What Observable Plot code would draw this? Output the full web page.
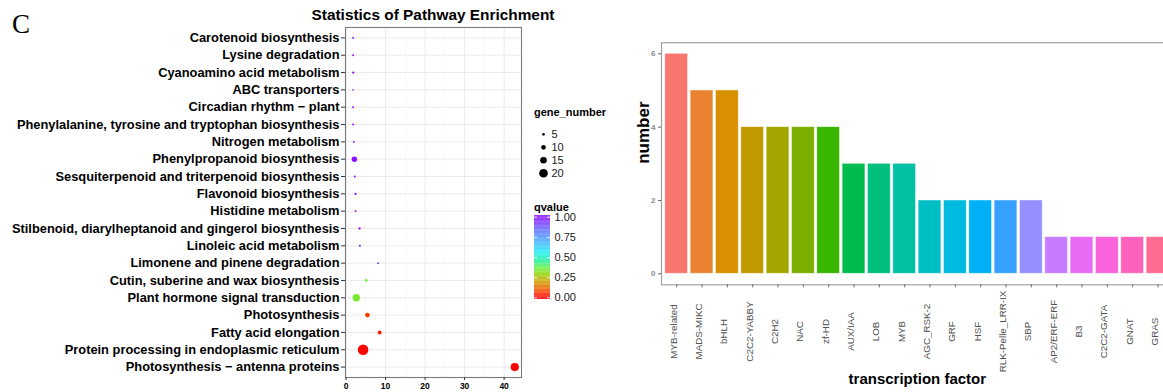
<!DOCTYPE html>
<html>
<head>
<meta charset="utf-8">
<script src="https://cdn.jsdelivr.net/npm/d3@7"></script>
<script src="https://cdn.jsdelivr.net/npm/@observablehq/plot@0.6"></script>
<style>
  html, body { margin: 0; padding: 0; background: #fff; }
  body { width: 1163px; height: 392px; overflow: hidden; position: relative; font-family: "Liberation Sans", Arial, sans-serif; }
  .abs { position: absolute; }
  .abs svg { max-width: none !important; display: block; }
  .lbl { position: absolute; white-space: nowrap; color: #000; }
</style>
</head>
<body>
<div class="lbl" style="left:12px; top:8px; font-family:'Liberation Serif','DejaVu Serif',serif; font-size:27px; line-height:32px;">C</div>
<div class="lbl" style="left:258px; width:350px; text-align:center; top:6px; font-weight:bold; font-size:15.4px; line-height:18px;">Statistics of Pathway Enrichment</div>
<div class="lbl" style="left:534px; top:105px; font-weight:bold; font-size:11px; line-height:14px;">gene_number</div>
<div class="lbl" style="left:534px; top:200px; font-weight:bold; font-size:11px; line-height:14px;">qvalue</div>
<div id="left" class="abs" style="left:0; top:0;"></div>
<div id="sizeLegend" class="abs" style="left:525px; top:95px;"></div>
<div id="colorLegend" class="abs" style="left:528px; top:205px;"></div>
<div id="right" class="abs" style="left:600px; top:0; width:580px;"></div>
<script>
// ---------- Left panel data: pathway enrichment ----------
const pathways = [
  "Carotenoid biosynthesis",
  "Lysine degradation",
  "Cyanoamino acid metabolism",
  "ABC transporters",
  "Circadian rhythm \u2212 plant",
  "Phenylalanine, tyrosine and tryptophan biosynthesis",
  "Nitrogen metabolism",
  "Phenylpropanoid biosynthesis",
  "Sesquiterpenoid and triterpenoid biosynthesis",
  "Flavonoid biosynthesis",
  "Histidine metabolism",
  "Stilbenoid, diarylheptanoid and gingerol biosynthesis",
  "Linoleic acid metabolism",
  "Limonene and pinene degradation",
  "Cutin, suberine and wax biosynthesis",
  "Plant hormone signal transduction",
  "Photosynthesis",
  "Fatty acid elongation",
  "Protein processing in endoplasmic reticulum",
  "Photosynthesis \u2212 antenna proteins"
];
const richFactor = [1.77, 1.77, 1.8, 1.77, 1.77, 1.77, 1.95, 2.1, 2.2, 2.4, 2.4, 3.4, 3.5, 8.1, 5.1, 2.6, 5.4, 8.5, 4.3, 42.7];
const geneNumber = [3, 3, 4, 2, 3, 3, 3, 12, 3, 4, 3, 4, 3, 3, 5, 17, 10, 8, 25, 19];
const qvalue = [1, 1, 1, 1, 1, 1, 1, 1, 1, 1, 1, 1, 1, 0.93, 0.36, 0.34, 0.07, 0.03, 0.0, 0.0];
const xTicks = [0, 10, 20, 30, 40];
const xMinor = [5, 15, 25, 35];
const sizeBreaks = [5, 10, 15, 20];
const qBreaks = [0, 0.25, 0.5, 0.75, 1];

// ---------- Right panel data: transcription factors ----------
const tfs = ["MYB-related", "MADS-MIKC", "bHLH", "C2C2-YABBY", "C2H2", "NAC", "zf-HD", "AUX/IAA", "LOB", "MYB",
  "AGC_RSK-2", "GRF", "HSF", "RLK-Pelle_LRR-IX", "SBP", "AP2/ERF-ERF", "B3", "C2C2-GATA", "GNAT", "GRAS"];
const tfCounts = [6, 5, 5, 4, 4, 4, 4, 3, 3, 3, 2, 2, 2, 2, 2, 1, 1, 1, 1, 1];
const tfColors = ["#F8766D", "#EA8331", "#D89000", "#C09B00", "#A3A500", "#7CAE00", "#39B600", "#00BB4E", "#00BF7D", "#00C1A3",
  "#00BFC4", "#00BAE0", "#00B0F6", "#35A2FF", "#9590FF", "#C77CFF", "#E76BF3", "#FA62DB", "#FF62BC", "#FF6C91"];
const yTicksRight = [0, 2, 4, 6];

// qvalue colour ramp (stops)
const qStops = [0, 0.1, 0.2, 0.28, 0.36, 0.46, 0.56, 0.68, 0.82, 1];
const qColors = ["#FF0000", "#F05A00", "#CFA000", "#98D000", "#70F040", "#20F0A0", "#20ECF0", "#40B8FF", "#6478FF", "#8B10FF"];
const qRamp = d3.scaleLinear().domain(qStops).range(qColors).interpolate(d3.interpolateRgb).clamp(true);

const font = "'Liberation Sans', Arial, sans-serif";
const pathData = pathways.map((p, i) => ({pathway: p, rich: richFactor[i], genes: geneNumber[i], q: qvalue[i]}));
const rScale = {type: "linear", domain: [5, 20], range: [1.35, 4.3]};
const colorScale = {type: "linear", domain: [0, 1], interpolate: t => qRamp(t)};

const left = Plot.plot({
  width: 530, height: 392,
  marginLeft: 345, marginRight: 9, marginTop: 27, marginBottom: 15,
  style: {fontFamily: font, background: "transparent", overflow: "visible"},
  x: {domain: [-0.15, 44.4], label: null},
  y: {type: "point", domain: pathways, padding: 0.6, round: false, label: null},
  r: rScale,
  color: colorScale,
  marks: [
    Plot.gridX(xMinor, {stroke: "#F3F3F3", strokeOpacity: 1, strokeWidth: 0.6}),
    Plot.gridX(xTicks, {stroke: "#E8E8E8", strokeOpacity: 1, strokeWidth: 0.9}),
    Plot.gridY(pathways, {stroke: "#E8E8E8", strokeOpacity: 1, strokeWidth: 0.9}),
    Plot.frame({stroke: "#7A7A7A", strokeWidth: 1.1}),
    Plot.axisX(xTicks, {tickSize: 3, tickPadding: 2, fontSize: 8.5, fontWeight: "bold", fill: "#000", stroke: "#333", label: null}),
    Plot.axisY({tickSize: 4, tickPadding: 2, fontSize: 12.85, fontWeight: "bold", fill: "#000", stroke: "#333", label: null}),
    Plot.dot(pathData, {x: "rich", y: "pathway", r: "genes", fill: "q"})
  ]
});
document.getElementById("left").appendChild(left);

// size legend
const sizeLegend = Plot.plot({
  width: 90, height: 100,
  marginLeft: 0, marginRight: 0, marginTop: 0, marginBottom: 0,
  style: {fontFamily: font, background: "transparent", overflow: "visible"},
  y: {type: "point", domain: sizeBreaks, range: [32.3, 84.3], round: false, axis: null},
  r: rScale,
  marks: [
    Plot.dot(sizeBreaks, {y: d => d, r: d => d, fill: "#000", frameAnchor: "left", dx: 18}),
    Plot.text(sizeBreaks, {y: d => d, text: d => String(d), frameAnchor: "left", dx: 26, textAnchor: "start", fontSize: 11, fill: "#1A1A1A"})
  ]
});
document.getElementById("sizeLegend").appendChild(sizeLegend);

// colour bar legend
const bins = d3.range(-0.02, 1.02, 0.01).map(t => ({y1: t, y2: Math.min(t + 0.0105, 1.02), v: t + 0.005}));
const colorLegend = Plot.plot({
  width: 80, height: 100,
  marginLeft: 6, marginRight: 58, marginTop: 0, marginBottom: 0,
  style: {fontFamily: font, background: "transparent", overflow: "visible"},
  y: {domain: [0, 1], range: [92.3, 11.7], label: null},
  color: colorScale,
  marks: [
    Plot.rectY(bins, {y1: "y1", y2: "y2", fill: "v"}),
    Plot.tickY(qBreaks, {y: d => d, stroke: "white", strokeWidth: 0.8, insetRight: 13}),
    Plot.tickY(qBreaks, {y: d => d, stroke: "white", strokeWidth: 0.8, insetLeft: 13}),
    Plot.axisY(qBreaks, {anchor: "right", tickSize: 0, tickPadding: 4, tickFormat: d3.format(".2f"), fontSize: 11, fill: "#1A1A1A", label: null})
  ]
});
document.getElementById("colorLegend").appendChild(colorLegend);

// ---------- Right panel ----------
const tfData = tfs.map((t, i) => ({tf: t, n: tfCounts[i]}));
const right = Plot.plot({
  width: 580, height: 392,
  marginLeft: 61, marginRight: 7.3, marginTop: 42.3, marginBottom: 107.7,
  style: {fontFamily: font, background: "transparent", overflow: "visible"},
  x: {type: "band", domain: tfs, paddingInner: 0.1, paddingOuter: 0.15, round: false, label: null},
  y: {domain: [-0.3, 6.3], label: null},
  color: {type: "ordinal", domain: tfs, range: tfColors},
  marks: [
    Plot.barY(tfData, {x: "tf", y: "n", fill: "tf", stroke: "#FFFFFF", strokeOpacity: 0.6, strokeWidth: 0.8}),
    Plot.frame({stroke: "#9A9A9A", strokeWidth: 1.1}),
    Plot.axisY(yTicksRight, {tickSize: 3, tickPadding: 3, fontSize: 8, fontWeight: "bold", fill: "#8A8A8A", stroke: "#666", label: null}),
    Plot.axisX({tickSize: 3, tickFormat: () => "", stroke: "#666", label: null}),
    Plot.text(tfs, {x: d => d, text: d => d, frameAnchor: "bottom", dy: 46.7, rotate: -90, fontSize: 9.8, fill: "#505050"}),
    Plot.text(["number"], {text: d => d, frameAnchor: "left", dx: -18, rotate: -90, fontSize: 17, fontWeight: "bold", fill: "#000"}),
    Plot.text(["transcription factor"], {text: d => d, frameAnchor: "bottom", dy: 99, fontSize: 15, fontWeight: "bold", fill: "#000"})
  ]
});
document.getElementById("right").appendChild(right);
</script>
</body>
</html>
